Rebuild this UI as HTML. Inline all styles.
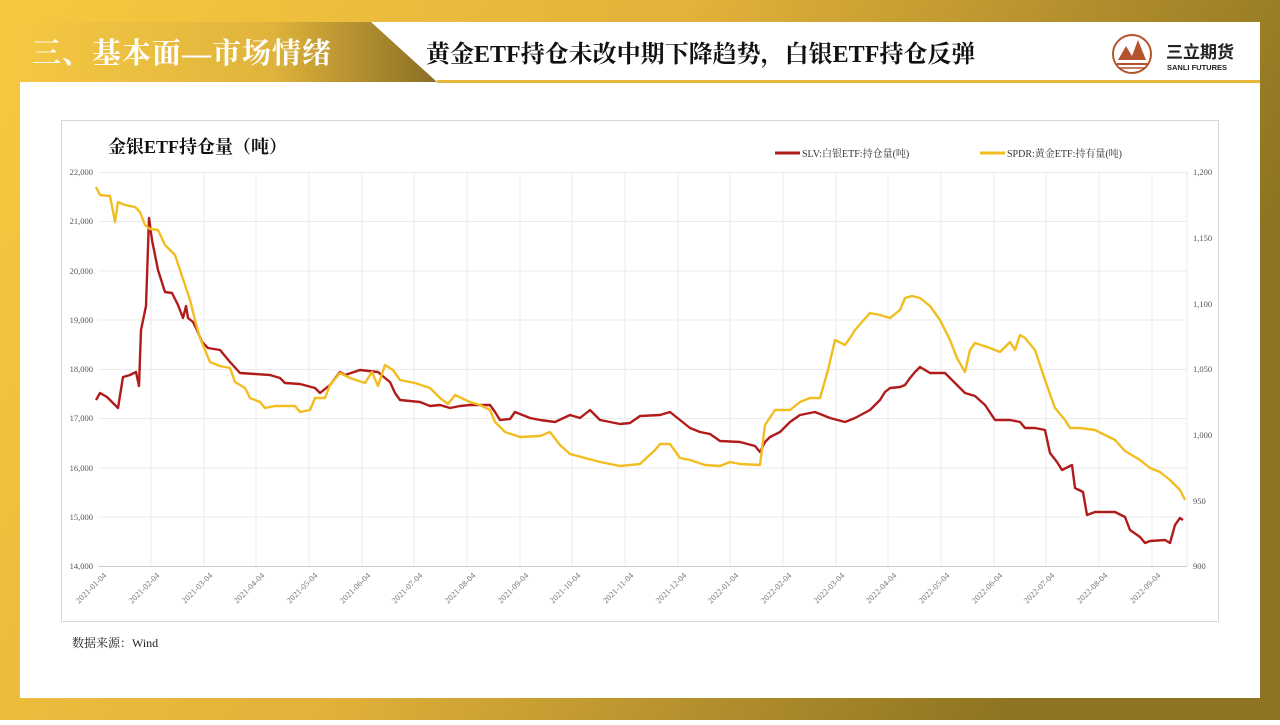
<!DOCTYPE html>
<html><head><meta charset="utf-8"><style>
body{margin:0;width:1280px;height:720px;overflow:hidden;font-family:"Liberation Serif","Noto Serif CJK SC",serif;}
</style></head><body>
<svg width="1280" height="720" viewBox="0 0 1280 720" xmlns="http://www.w3.org/2000/svg">
<defs>
<linearGradient id="bg" x1="0" y1="0" x2="1" y2="0.3">
<stop offset="0" stop-color="#f7c93e"/><stop offset="0.5" stop-color="#e2b23a"/><stop offset="1" stop-color="#8d7322"/></linearGradient>
<linearGradient id="ban" x1="0" y1="0" x2="1" y2="0">
<stop offset="0" stop-color="#f4c842"/><stop offset="0.6" stop-color="#e0b43c"/><stop offset="1" stop-color="#8a6e24"/></linearGradient>
</defs>
<rect width="1280" height="720" fill="url(#bg)"/>
<rect x="20" y="22" width="1240" height="676" fill="#fff"/>
<polygon points="20,22 371,22 437,82 20,82" fill="url(#ban)"/>
<rect x="437" y="80" width="823" height="3" fill="#e6b73a"/>
<text x="32" y="63" font-size="29" font-weight="bold" fill="#fff" font-family="Liberation Serif,'Noto Serif CJK SC',serif" letter-spacing="1">三、基本面—市场情绪</text>
<text x="426" y="62" font-size="24" font-weight="bold" fill="#111" font-family="Liberation Serif,'Noto Serif CJK SC',serif">黄金ETF持仓未改中期下降趋势，白银ETF持仓反弹</text>
<circle cx="1132" cy="54" r="19" fill="none" stroke="#b5532f" stroke-width="2"/>
<polygon points="1118,60 1126,46 1132,56 1138,40 1146,60" fill="#b5532f"/>
<line x1="1117" y1="64" x2="1147" y2="64" stroke="#b5532f" stroke-width="2"/>
<line x1="1119" y1="68" x2="1145" y2="68" stroke="#b5532f" stroke-width="1.5"/>
<text x="1166" y="58" font-size="17" font-weight="bold" fill="#222" font-family="Liberation Sans,'Noto Sans CJK SC',sans-serif">三立期货</text>
<text x="1167" y="70" font-size="7.5" font-weight="bold" fill="#222" font-family="Liberation Sans,sans-serif">SANLI FUTURES</text>
<rect x="61.5" y="120.5" width="1157" height="501" fill="#fff" stroke="#d8d8d8"/>
<text x="108" y="153" font-size="18" font-weight="bold" fill="#111">金银ETF持仓量（吨）</text>
<line x1="775" y1="153" x2="800" y2="153" stroke="#b01c1c" stroke-width="3"/>
<text x="802" y="157" font-size="10" fill="#333">SLV:白银ETF:持仓量(吨)</text>
<line x1="980" y1="153" x2="1005" y2="153" stroke="#f2bd20" stroke-width="3"/>
<text x="1007" y="157" font-size="10" fill="#333">SPDR:黄金ETF:持有量(吨)</text>
<g stroke="#ebebeb" stroke-width="1">
<line x1="98" y1="172.5" x2="1187" y2="172.5"/><line x1="98" y1="221.5" x2="1187" y2="221.5"/><line x1="98" y1="271" x2="1187" y2="271"/><line x1="98" y1="320" x2="1187" y2="320"/><line x1="98" y1="369.5" x2="1187" y2="369.5"/><line x1="98" y1="418.5" x2="1187" y2="418.5"/><line x1="98" y1="468" x2="1187" y2="468"/><line x1="98" y1="517" x2="1187" y2="517"/>
<line x1="151" y1="172" x2="151" y2="566"/><line x1="204" y1="172" x2="204" y2="566"/><line x1="256" y1="172" x2="256" y2="566"/><line x1="309" y1="172" x2="309" y2="566"/><line x1="362" y1="172" x2="362" y2="566"/><line x1="414" y1="172" x2="414" y2="566"/><line x1="467" y1="172" x2="467" y2="566"/><line x1="520" y1="172" x2="520" y2="566"/><line x1="572" y1="172" x2="572" y2="566"/><line x1="625" y1="172" x2="625" y2="566"/><line x1="678" y1="172" x2="678" y2="566"/><line x1="730" y1="172" x2="730" y2="566"/><line x1="783" y1="172" x2="783" y2="566"/><line x1="836" y1="172" x2="836" y2="566"/><line x1="888" y1="172" x2="888" y2="566"/><line x1="941" y1="172" x2="941" y2="566"/><line x1="994" y1="172" x2="994" y2="566"/><line x1="1046" y1="172" x2="1046" y2="566"/><line x1="1099" y1="172" x2="1099" y2="566"/><line x1="1152" y1="172" x2="1152" y2="566"/><line x1="1187" y1="172" x2="1187" y2="566"/>
</g>
<line x1="98" y1="566.5" x2="1187" y2="566.5" stroke="#ccc"/>
<g font-size="8.5" fill="#555" text-anchor="end">
<text x="93" y="175">22,000</text><text x="93" y="224">21,000</text><text x="93" y="274">20,000</text><text x="93" y="323">19,000</text><text x="93" y="372">18,000</text><text x="93" y="421">17,000</text><text x="93" y="471">16,000</text><text x="93" y="520">15,000</text><text x="93" y="569">14,000</text>
</g>
<g font-size="8.5" fill="#555">
<text x="1193" y="175">1,200</text><text x="1193" y="241">1,150</text><text x="1193" y="307">1,100</text><text x="1193" y="372">1,050</text><text x="1193" y="438">1,000</text><text x="1193" y="504">950</text><text x="1193" y="569">900</text>
</g>
<g font-size="8.5" fill="#777" text-anchor="end">
<text transform="translate(107,576) rotate(-45)">2021-01-04</text>
<text transform="translate(160,576) rotate(-45)">2021-02-04</text>
<text transform="translate(213,576) rotate(-45)">2021-03-04</text>
<text transform="translate(265,576) rotate(-45)">2021-04-04</text>
<text transform="translate(318,576) rotate(-45)">2021-05-04</text>
<text transform="translate(371,576) rotate(-45)">2021-06-04</text>
<text transform="translate(423,576) rotate(-45)">2021-07-04</text>
<text transform="translate(476,576) rotate(-45)">2021-08-04</text>
<text transform="translate(529,576) rotate(-45)">2021-09-04</text>
<text transform="translate(581,576) rotate(-45)">2021-10-04</text>
<text transform="translate(634,576) rotate(-45)">2021-11-04</text>
<text transform="translate(687,576) rotate(-45)">2021-12-04</text>
<text transform="translate(739,576) rotate(-45)">2022-01-04</text>
<text transform="translate(792,576) rotate(-45)">2022-02-04</text>
<text transform="translate(845,576) rotate(-45)">2022-03-04</text>
<text transform="translate(897,576) rotate(-45)">2022-04-04</text>
<text transform="translate(950,576) rotate(-45)">2022-05-04</text>
<text transform="translate(1003,576) rotate(-45)">2022-06-04</text>
<text transform="translate(1055,576) rotate(-45)">2022-07-04</text>
<text transform="translate(1108,576) rotate(-45)">2022-08-04</text>
<text transform="translate(1161,576) rotate(-45)">2022-09-04</text>
</g>
<polyline fill="none" stroke="#b01c1c" stroke-width="2.4" stroke-linejoin="round" points="96,400 100,393 107,397 112,402 118,408 123,377 130,375 136,372 139,386 141,330 146,306 149,218 152,240 158,270 165,292 172,293 178,305 183,318 186,306 188,318 193,322 197,330 202,342 208,348 220,350 230,362 240,373 270,375 280,378 285,383 300,384 315,388 320,393 330,385 340,372 345,375 360,370 378,372 385,378 390,382 395,393 400,400 420,402 430,406 440,405 450,408 460,406 470,405 490,405 495,412 500,420 510,419 515,412 530,418 540,420 555,422 570,415 580,418 590,410 600,420 620,424 630,423 640,416 660,415 670,412 680,420 690,428 700,432 710,434 720,441 740,442 755,446 760,452 765,442 770,437 780,432 790,422 800,415 815,412 830,418 845,422 855,418 870,410 880,400 885,392 890,388 900,387 905,385 910,378 915,372 920,367 930,373 945,373 955,383 965,393 975,396 985,405 995,420 1010,420 1020,422 1025,428 1035,428 1045,430 1050,453 1057,462 1062,470 1072,465 1075,488 1083,492 1087,515 1095,512 1105,512 1115,512 1125,517 1130,530 1140,537 1145,543 1150,541 1165,540 1170,543 1175,525 1180,518 1183,520"/>
<polyline fill="none" stroke="#f2bd20" stroke-width="2.4" stroke-linejoin="round" points="96,187 100,195 110,196 115,222 118,202 125,205 135,207 140,212 145,225 150,229 158,230 165,245 175,255 180,270 190,300 195,320 200,338 210,362 220,366 230,368 235,382 245,388 250,398 260,402 265,408 275,406 295,406 300,412 310,410 315,398 325,398 330,385 340,373 350,378 365,383 372,372 378,386 385,365 393,370 400,380 415,383 430,388 440,398 448,404 455,395 470,402 480,405 490,410 495,422 505,432 520,437 540,436 550,432 560,445 570,454 585,458 600,462 620,466 640,464 655,450 660,444 670,444 680,458 690,460 705,465 720,466 730,462 740,464 760,465 765,425 775,410 790,410 800,402 810,398 820,398 828,370 835,340 845,345 850,338 855,330 862,322 870,313 880,315 890,318 900,310 905,298 912,296 920,298 930,306 940,320 950,340 957,358 965,372 970,350 975,343 990,348 1000,352 1010,342 1015,350 1020,335 1025,338 1035,350 1045,380 1055,408 1065,420 1070,428 1080,428 1095,430 1105,435 1115,440 1125,451 1140,460 1150,468 1160,472 1170,480 1180,490 1185,500"/>
<text x="72" y="647" font-size="12" fill="#222">数据来源：Wind</text>
</svg>
</body></html>
